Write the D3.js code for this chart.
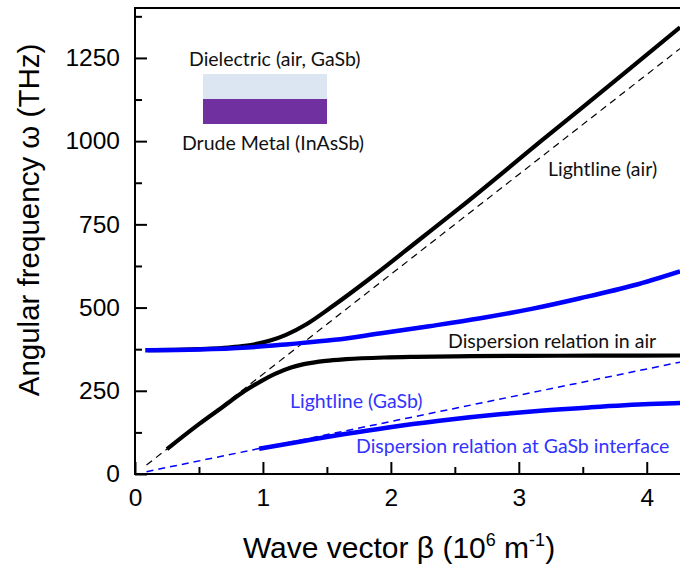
<!DOCTYPE html>
<html>
<head>
<meta charset="utf-8">
<script src="https://cdn.jsdelivr.net/npm/d3@7.9.0/dist/d3.min.js"></script>
<style>
  body { margin: 0; background: #fff; }
  svg { display: block; }
  .tick text { font-family: "Liberation Sans", Arial, sans-serif; font-size: 24.5px; fill: #000; }
  .note { font-family: Lato, "Open Sans", sans-serif; font-size: 19.5px; }
</style>
</head>
<body>
<svg id="chart" width="680" height="570"></svg>
<script>
// wave vector beta (10^6 m^-1) and angular frequency omega (THz)
const lightAirBeta = [0.09, 4.26];
const lightAirOmega = [27, 1278];
const lightGaSbBeta = [0.09, 4.26];
const lightGaSbOmega = [7, 336];

const airLowBeta = [0.25, 0.50, 0.68, 0.86, 0.99, 1.09, 1.22, 1.32, 1.49, 1.65, 1.95, 2.19, 2.63, 3.05, 3.60, 4.26];
const airLowOmega = [75, 150, 200, 250, 280, 300, 320, 330, 340, 345, 350, 352, 354, 355, 355.5, 356];

const airHighBeta = [0.10, 0.31, 0.56, 0.73, 0.86, 1.05, 1.18, 1.34, 1.53, 1.88, 2.21, 2.54, 3.18, 3.83, 4.26];
const airHighOmega = [372, 373, 376, 380, 385, 400, 418, 450, 500, 600, 700, 800, 1002, 1206, 1342];

const gasbLowBeta = [0.97, 1.33, 1.64, 1.98, 2.38, 2.87, 3.17, 3.55, 4.02, 4.26];
const gasbLowOmega = [76, 100, 120, 140, 160, 180, 190, 200, 210, 213];

const gasbHighBeta = [0.08, 0.50, 0.88, 1.20, 1.56, 1.91, 2.30, 2.70, 3.10, 3.48, 3.90, 4.26];
const gasbHighOmega = [372, 374, 380, 390, 403, 422, 444, 468, 496, 528, 567, 609];

const xTicks = [0, 1, 2, 3, 4];
const xMinor = [0.5, 1.5, 2.5, 3.5];
const yTicks = [0, 250, 500, 750, 1000, 1250];
const yMinor = [125, 375, 625, 875, 1125, 1375];

const svg = d3.select('#chart');
const plotL = 135, plotR = 680, plotT = 8, plotB = 474;

const x = d3.scaleLinear().domain([0, 4.26]).range([plotL, plotR]);
const y = d3.scaleLinear().domain([0, 1400]).range([plotB, plotT]);

svg.append('clipPath').attr('id', 'plot')
  .append('rect').attr('x', plotL).attr('y', plotT)
  .attr('width', plotR - plotL).attr('height', plotB - plotT);

const zip = (b, w) => b.map((v, i) => [v, w[i]]);
const line = d3.line().x(d => x(d[0])).y(d => y(d[1])).curve(d3.curveMonotoneX);

const g = svg.append('g').attr('clip-path', 'url(#plot)');

const series = [
  { b: lightAirBeta, w: lightAirOmega, color: '#000', width: 1.2, dash: '7,5' },
  { b: lightGaSbBeta, w: lightGaSbOmega, color: '#0000ff', width: 1.5, dash: '7,5' },
  { b: airHighBeta, w: airHighOmega, color: '#000', width: 4.2 },
  { b: airLowBeta, w: airLowOmega, color: '#000', width: 4.2 },
  { b: gasbHighBeta, w: gasbHighOmega, color: '#0000ff', width: 4.5 },
  { b: gasbLowBeta, w: gasbLowOmega, color: '#0000ff', width: 4.5 }
];

series.forEach(s => {
  g.append('path')
    .attr('d', line(zip(s.b, s.w)))
    .attr('fill', 'none')
    .attr('stroke', s.color)
    .attr('stroke-width', s.width)
    .attr('stroke-dasharray', s.dash || null);
});

// axes, ticks pointing inward
svg.append('g').attr('transform', `translate(0,${plotB})`)
  .call(d3.axisBottom(x).tickValues(xTicks).tickFormat(d3.format('d')).tickSize(-12).tickPadding(15));
svg.append('g').attr('transform', `translate(0,${plotB})`)
  .call(d3.axisBottom(x).tickValues(xMinor).tickFormat('').tickSize(-7));
svg.append('g').attr('transform', `translate(${plotL},0)`)
  .call(d3.axisLeft(y).tickValues(yTicks).tickFormat(d3.format('d')).tickSize(-12).tickPadding(15));
svg.append('g').attr('transform', `translate(${plotL},0)`)
  .call(d3.axisLeft(y).tickValues(yMinor).tickFormat('').tickSize(-7));

svg.selectAll('.domain').remove();
svg.selectAll('.tick line').attr('stroke', '#000').attr('stroke-width', 2);

svg.append('path')
  .attr('d', `M${plotR},${plotT}H${plotL}V${plotB}H${plotR}`)
  .attr('fill', 'none').attr('stroke', '#000').attr('stroke-width', 2);

// axis titles
svg.append('text')
  .attr('transform', `translate(28,220) rotate(-90)`)
  .attr('text-anchor', 'middle').attr('dominant-baseline', 'central')
  .style('font-family', '"Liberation Sans", Arial, sans-serif').style('font-size', '29.5px')
  .text('Angular frequency ω (THz)');

const xt = svg.append('text')
  .attr('x', 399).attr('y', 558).attr('text-anchor', 'middle')
  .style('font-family', '"Liberation Sans", Arial, sans-serif').style('font-size', '30px');
xt.append('tspan').text('Wave vector β (10');
xt.append('tspan').attr('dy', -12).style('font-size', '18px').text('6');
xt.append('tspan').attr('dy', 12).text(' m');
xt.append('tspan').attr('dy', -12).style('font-size', '18px').text('-1');
xt.append('tspan').attr('dy', 12).text(')');

// inset sketch of the interface
svg.append('rect').attr('x', 203).attr('y', 74).attr('width', 124).attr('height', 25).attr('fill', '#dce6f2');
svg.append('rect').attr('x', 203).attr('y', 99).attr('width', 124).attr('height', 25).attr('fill', '#7030a0');

const notes = [
  { t: 'Dielectric (air, GaSb)', x: 189, y: 58, c: '#111' },
  { t: 'Drude Metal (InAsSb)', x: 182, y: 142, c: '#111' },
  { t: 'Lightline (air)', x: 548, y: 168, c: '#111' },
  { t: 'Dispersion relation in air', x: 448, y: 340, c: '#111' },
  { t: 'Lightline (GaSb)', x: 290, y: 400, c: '#3333ff' },
  { t: 'Dispersion relation at GaSb interface', x: 356, y: 445, c: '#3333ff' }
];
svg.selectAll('text.note').data(notes).enter().append('text')
  .attr('class', 'note')
  .attr('x', d => d.x).attr('y', d => d.y)
  .attr('dominant-baseline', 'central')
  .attr('fill', d => d.c)
  .text(d => d.t);
</script>
</body>
</html>
